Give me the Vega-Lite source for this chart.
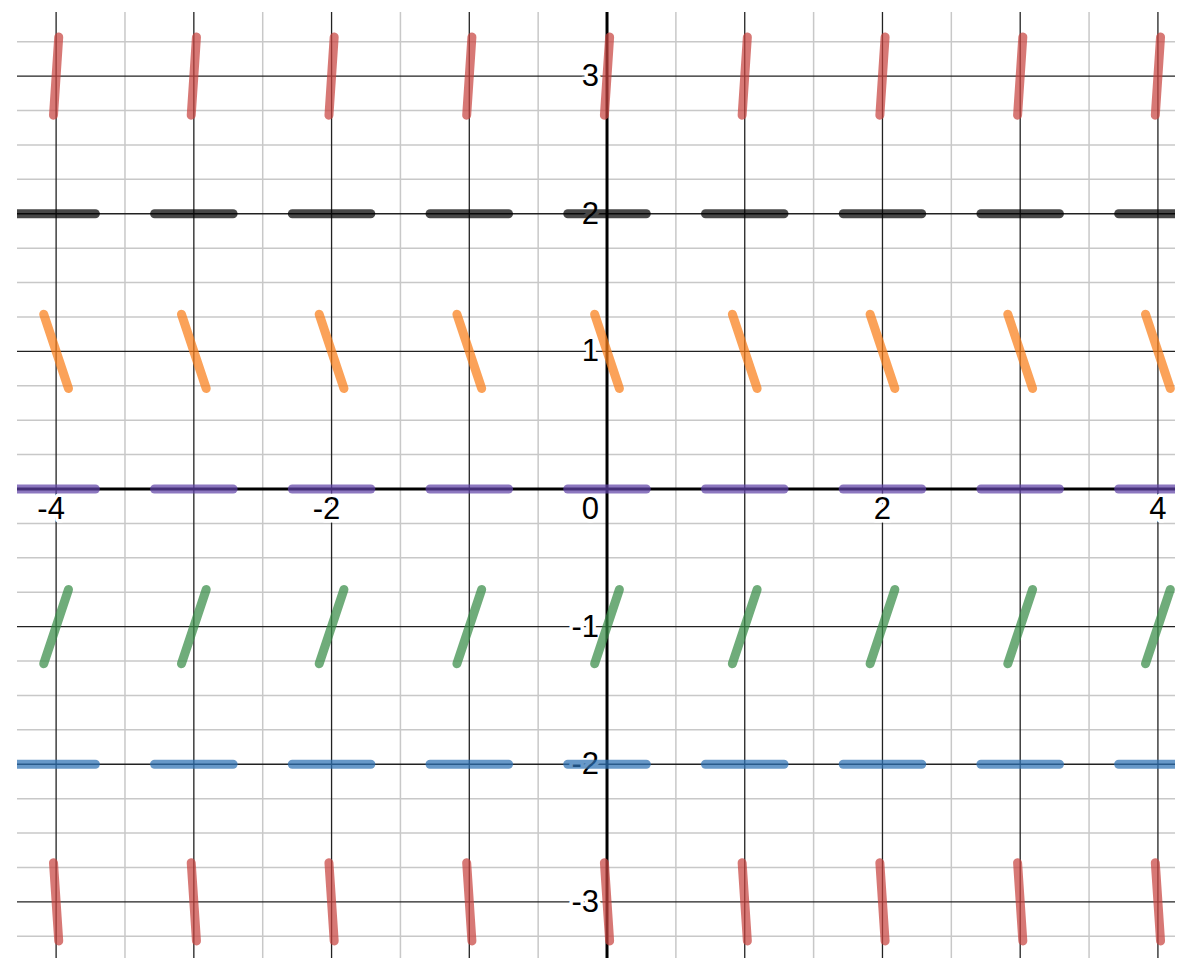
{
  "$schema": "https://vega.github.io/schema/vega-lite/v6.json",
  "width": 1177,
  "height": 960,
  "autosize": {"type": "fit", "contains": "padding"},
  "padding": {"left": 15, "top": 10, "right": 0, "bottom": 0},
  "background": "white",
  "config": {"view": {"stroke": null}},
  "datasets": {
    "one": [{}],
    "minorX": [{"v": -3.5}, {"v": -2.5}, {"v": -1.5}, {"v": -0.5}, {"v": 0.5}, {"v": 1.5}, {"v": 2.5}, {"v": 3.5}],
    "minorY": [{"v": -3.25}, {"v": -2.75}, {"v": -2.5}, {"v": -2.25}, {"v": -1.75}, {"v": -1.5}, {"v": -1.25}, {"v": -0.75}, {"v": -0.5}, {"v": -0.25}, {"v": 0.25}, {"v": 0.5}, {"v": 0.75}, {"v": 1.25}, {"v": 1.5}, {"v": 1.75}, {"v": 2.25}, {"v": 2.5}, {"v": 2.75}, {"v": 3.25}],
    "majorX": [{"v": -4}, {"v": -3}, {"v": -2}, {"v": -1}, {"v": 1}, {"v": 2}, {"v": 3}, {"v": 4}],
    "majorY": [{"v": -3}, {"v": -2}, {"v": -1}, {"v": 1}, {"v": 2}, {"v": 3}],
    "xLabelsNeg": [{"v": -4, "t": "-4"}, {"v": -2, "t": "-2"}],
    "xLabelsPos": [{"v": 2, "t": "2"}, {"v": 4, "t": "4"}],
    "yLabels": [{"v": 3, "t": "3"}, {"v": 2, "t": "2"}, {"v": 1, "t": "1"}, {"v": -1, "t": "-1"}, {"v": -2, "t": "-2"}, {"v": -3, "t": "-3"}],
    "segments": [
      {"lvl": 3, "xa": -4.019, "ya": 2.716, "xb": -3.981, "yb": 3.284},
      {"lvl": 2, "xa": -4.285, "ya": 2, "xb": -3.715, "yb": 2},
      {"lvl": 1, "xa": -4.09, "ya": 1.27, "xb": -3.91, "yb": 0.73},
      {"lvl": 0, "xa": -4.285, "ya": 0, "xb": -3.715, "yb": 0},
      {"lvl": -1, "xa": -4.09, "ya": -1.27, "xb": -3.91, "yb": -0.73},
      {"lvl": -2, "xa": -4.285, "ya": -2, "xb": -3.715, "yb": -2},
      {"lvl": -3, "xa": -4.019, "ya": -2.716, "xb": -3.981, "yb": -3.284},
      {"lvl": 3, "xa": -3.019, "ya": 2.716, "xb": -2.981, "yb": 3.284},
      {"lvl": 2, "xa": -3.285, "ya": 2, "xb": -2.715, "yb": 2},
      {"lvl": 1, "xa": -3.09, "ya": 1.27, "xb": -2.91, "yb": 0.73},
      {"lvl": 0, "xa": -3.285, "ya": 0, "xb": -2.715, "yb": 0},
      {"lvl": -1, "xa": -3.09, "ya": -1.27, "xb": -2.91, "yb": -0.73},
      {"lvl": -2, "xa": -3.285, "ya": -2, "xb": -2.715, "yb": -2},
      {"lvl": -3, "xa": -3.019, "ya": -2.716, "xb": -2.981, "yb": -3.284},
      {"lvl": 3, "xa": -2.019, "ya": 2.716, "xb": -1.981, "yb": 3.284},
      {"lvl": 2, "xa": -2.285, "ya": 2, "xb": -1.715, "yb": 2},
      {"lvl": 1, "xa": -2.09, "ya": 1.27, "xb": -1.91, "yb": 0.73},
      {"lvl": 0, "xa": -2.285, "ya": 0, "xb": -1.715, "yb": 0},
      {"lvl": -1, "xa": -2.09, "ya": -1.27, "xb": -1.91, "yb": -0.73},
      {"lvl": -2, "xa": -2.285, "ya": -2, "xb": -1.715, "yb": -2},
      {"lvl": -3, "xa": -2.019, "ya": -2.716, "xb": -1.981, "yb": -3.284},
      {"lvl": 3, "xa": -1.019, "ya": 2.716, "xb": -0.981, "yb": 3.284},
      {"lvl": 2, "xa": -1.285, "ya": 2, "xb": -0.715, "yb": 2},
      {"lvl": 1, "xa": -1.09, "ya": 1.27, "xb": -0.91, "yb": 0.73},
      {"lvl": 0, "xa": -1.285, "ya": 0, "xb": -0.715, "yb": 0},
      {"lvl": -1, "xa": -1.09, "ya": -1.27, "xb": -0.91, "yb": -0.73},
      {"lvl": -2, "xa": -1.285, "ya": -2, "xb": -0.715, "yb": -2},
      {"lvl": -3, "xa": -1.019, "ya": -2.716, "xb": -0.981, "yb": -3.284},
      {"lvl": 3, "xa": -0.019, "ya": 2.716, "xb": 0.019, "yb": 3.284},
      {"lvl": 2, "xa": -0.285, "ya": 2, "xb": 0.285, "yb": 2},
      {"lvl": 1, "xa": -0.09, "ya": 1.27, "xb": 0.09, "yb": 0.73},
      {"lvl": 0, "xa": -0.285, "ya": 0, "xb": 0.285, "yb": 0},
      {"lvl": -1, "xa": -0.09, "ya": -1.27, "xb": 0.09, "yb": -0.73},
      {"lvl": -2, "xa": -0.285, "ya": -2, "xb": 0.285, "yb": -2},
      {"lvl": -3, "xa": -0.019, "ya": -2.716, "xb": 0.019, "yb": -3.284},
      {"lvl": 3, "xa": 0.981, "ya": 2.716, "xb": 1.019, "yb": 3.284},
      {"lvl": 2, "xa": 0.715, "ya": 2, "xb": 1.285, "yb": 2},
      {"lvl": 1, "xa": 0.91, "ya": 1.27, "xb": 1.09, "yb": 0.73},
      {"lvl": 0, "xa": 0.715, "ya": 0, "xb": 1.285, "yb": 0},
      {"lvl": -1, "xa": 0.91, "ya": -1.27, "xb": 1.09, "yb": -0.73},
      {"lvl": -2, "xa": 0.715, "ya": -2, "xb": 1.285, "yb": -2},
      {"lvl": -3, "xa": 0.981, "ya": -2.716, "xb": 1.019, "yb": -3.284},
      {"lvl": 3, "xa": 1.981, "ya": 2.716, "xb": 2.019, "yb": 3.284},
      {"lvl": 2, "xa": 1.715, "ya": 2, "xb": 2.285, "yb": 2},
      {"lvl": 1, "xa": 1.91, "ya": 1.27, "xb": 2.09, "yb": 0.73},
      {"lvl": 0, "xa": 1.715, "ya": 0, "xb": 2.285, "yb": 0},
      {"lvl": -1, "xa": 1.91, "ya": -1.27, "xb": 2.09, "yb": -0.73},
      {"lvl": -2, "xa": 1.715, "ya": -2, "xb": 2.285, "yb": -2},
      {"lvl": -3, "xa": 1.981, "ya": -2.716, "xb": 2.019, "yb": -3.284},
      {"lvl": 3, "xa": 2.981, "ya": 2.716, "xb": 3.019, "yb": 3.284},
      {"lvl": 2, "xa": 2.715, "ya": 2, "xb": 3.285, "yb": 2},
      {"lvl": 1, "xa": 2.91, "ya": 1.27, "xb": 3.09, "yb": 0.73},
      {"lvl": 0, "xa": 2.715, "ya": 0, "xb": 3.285, "yb": 0},
      {"lvl": -1, "xa": 2.91, "ya": -1.27, "xb": 3.09, "yb": -0.73},
      {"lvl": -2, "xa": 2.715, "ya": -2, "xb": 3.285, "yb": -2},
      {"lvl": -3, "xa": 2.981, "ya": -2.716, "xb": 3.019, "yb": -3.284},
      {"lvl": 3, "xa": 3.981, "ya": 2.716, "xb": 4.019, "yb": 3.284},
      {"lvl": 2, "xa": 3.715, "ya": 2, "xb": 4.285, "yb": 2},
      {"lvl": 1, "xa": 3.91, "ya": 1.27, "xb": 4.09, "yb": 0.73},
      {"lvl": 0, "xa": 3.715, "ya": 0, "xb": 4.285, "yb": 0},
      {"lvl": -1, "xa": 3.91, "ya": -1.27, "xb": 4.09, "yb": -0.73},
      {"lvl": -2, "xa": 3.715, "ya": -2, "xb": 4.285, "yb": -2},
      {"lvl": -3, "xa": 3.981, "ya": -2.716, "xb": 4.019, "yb": -3.284}
    ]
  },
  "layer": [
    {
      "data": {"name": "minorX"},
      "mark": {"type": "rule", "stroke": "#c8c8c8", "strokeWidth": 1.5},
      "encoding": {
        "x": {"field": "v", "type": "quantitative", "scale": {"domain": [-4.284, 4.124], "nice": false, "zero": false}, "axis": null}
      }
    },
    {
      "data": {"name": "minorY"},
      "mark": {"type": "rule", "stroke": "#c8c8c8", "strokeWidth": 1.5},
      "encoding": {
        "y": {"field": "v", "type": "quantitative", "scale": {"domain": [-3.408, 3.466], "nice": false, "zero": false}, "axis": null}
      }
    },
    {
      "data": {"name": "majorX"},
      "mark": {"type": "rule", "stroke": "#222222", "strokeWidth": 1.3},
      "encoding": {
        "x": {"field": "v", "type": "quantitative", "axis": null}
      }
    },
    {
      "data": {"name": "majorY"},
      "mark": {"type": "rule", "stroke": "#222222", "strokeWidth": 1.3},
      "encoding": {
        "y": {"field": "v", "type": "quantitative", "axis": null}
      }
    },
    {
      "data": {"name": "one"},
      "mark": {"type": "rule", "stroke": "black", "strokeWidth": 3},
      "encoding": {"x": {"datum": 0, "type": "quantitative"}}
    },
    {
      "data": {"name": "one"},
      "mark": {"type": "rule", "stroke": "black", "strokeWidth": 3},
      "encoding": {"y": {"datum": 0, "type": "quantitative"}}
    },
    {
      "data": {"name": "xLabelsNeg"},
      "mark": {"type": "text", "font": "Liberation Sans", "fontSize": 31, "align": "center", "baseline": "middle", "dx": -5, "dy": 21, "fill": "white", "stroke": "white", "strokeWidth": 7, "strokeJoin": "round"},
      "encoding": {
        "x": {"field": "v", "type": "quantitative"},
        "y": {"datum": 0, "type": "quantitative"},
        "text": {"field": "t"}
      }
    },
    {
      "data": {"name": "xLabelsNeg"},
      "mark": {"type": "text", "font": "Liberation Sans", "fontSize": 31, "align": "center", "baseline": "middle", "dx": -5, "dy": 21, "fill": "black"},
      "encoding": {
        "x": {"field": "v", "type": "quantitative"},
        "y": {"datum": 0, "type": "quantitative"},
        "text": {"field": "t"}
      }
    },
    {
      "data": {"name": "xLabelsPos"},
      "mark": {"type": "text", "font": "Liberation Sans", "fontSize": 31, "align": "center", "baseline": "middle", "dy": 21, "fill": "white", "stroke": "white", "strokeWidth": 7, "strokeJoin": "round"},
      "encoding": {
        "x": {"field": "v", "type": "quantitative"},
        "y": {"datum": 0, "type": "quantitative"},
        "text": {"field": "t"}
      }
    },
    {
      "data": {"name": "xLabelsPos"},
      "mark": {"type": "text", "font": "Liberation Sans", "fontSize": 31, "align": "center", "baseline": "middle", "dy": 21, "fill": "black"},
      "encoding": {
        "x": {"field": "v", "type": "quantitative"},
        "y": {"datum": 0, "type": "quantitative"},
        "text": {"field": "t"}
      }
    },
    {
      "data": {"name": "yLabels"},
      "mark": {"type": "text", "font": "Liberation Sans", "fontSize": 31, "align": "right", "baseline": "middle", "dx": -8, "dy": 1, "fill": "white", "stroke": "white", "strokeWidth": 7, "strokeJoin": "round"},
      "encoding": {
        "x": {"datum": 0, "type": "quantitative"},
        "y": {"field": "v", "type": "quantitative"},
        "text": {"field": "t"}
      }
    },
    {
      "data": {"name": "yLabels"},
      "mark": {"type": "text", "font": "Liberation Sans", "fontSize": 31, "align": "right", "baseline": "middle", "dx": -8, "dy": 1, "fill": "black"},
      "encoding": {
        "x": {"datum": 0, "type": "quantitative"},
        "y": {"field": "v", "type": "quantitative"},
        "text": {"field": "t"}
      }
    },
    {
      "data": {"name": "one"},
      "mark": {"type": "text", "font": "Liberation Sans", "fontSize": 31, "align": "right", "baseline": "middle", "dx": -8, "dy": 21, "fill": "white", "stroke": "white", "strokeWidth": 7, "strokeJoin": "round", "text": "0"},
      "encoding": {
        "x": {"datum": 0, "type": "quantitative"},
        "y": {"datum": 0, "type": "quantitative"}
      }
    },
    {
      "data": {"name": "one"},
      "mark": {"type": "text", "font": "Liberation Sans", "fontSize": 31, "align": "right", "baseline": "middle", "dx": -8, "dy": 21, "fill": "black", "text": "0"},
      "encoding": {
        "x": {"datum": 0, "type": "quantitative"},
        "y": {"datum": 0, "type": "quantitative"}
      }
    },
    {
      "data": {"name": "segments"},
      "mark": {"type": "rule", "strokeWidth": 9, "strokeCap": "round", "opacity": 0.72, "clip": true},
      "encoding": {
        "x": {"field": "xa", "type": "quantitative"},
        "y": {"field": "ya", "type": "quantitative"},
        "x2": {"field": "xb"},
        "y2": {"field": "yb"},
        "color": {
          "field": "lvl",
          "type": "nominal",
          "scale": {"domain": [3, 2, 1, 0, -1, -2, -3], "range": ["#c74440", "#000000", "#fa7e19", "#6042a6", "#388c46", "#2d70b3", "#c74440"]},
          "legend": null
        }
      }
    }
  ]
}
